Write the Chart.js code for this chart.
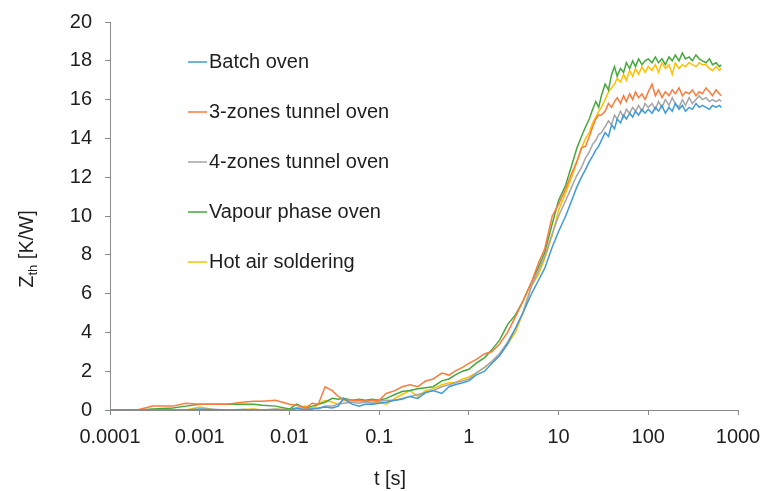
<!DOCTYPE html>
<html>
<head>
<meta charset="utf-8">
<title>Zth curves</title>
<script src="https://cdn.jsdelivr.net/npm/chart.js"></script>
<style>
  html, body { margin: 0; padding: 0; background: #fff; }
  #wrap { width: 761px; height: 491px; position: relative; }
</style>
</head>
<body>
<div id="wrap"><canvas id="myChart"></canvas></div>
<script>
// sample times [s]
var tSec = [0.0001,0.0002,0.0003,0.0005,0.0007,0.001,0.0015,0.002,0.003,0.004,0.005,0.007,0.01,
  0.012,0.015,0.018,0.021,0.025,0.03,0.035,0.04,0.05,0.06,0.07,0.085,0.1,
  0.12,0.15,0.18,0.22,0.27,0.33,0.4,0.5,0.6,0.7,0.85,1,
  1.2,1.5,1.8,2.2,2.7,3.3,4,5,6,7,8.5,10,
  12,14,16,18,20,22,24,26,28,30,33,36,39,42,45,49,53,57,62,67,72,78,85,92,100,
  110,120,130,142,155,170,185,200,220,240,260,285,310,340,370,400,440,480,520,570,620,650];

var seriesNames = ['Batch oven', '3-zones tunnel oven', '4-zones tunnel oven', 'Vapour phase oven', 'Hot air soldering'];
var seriesColors = ['#3f9ad8', '#fb7b3c', '#a5a5a5', '#46a83a', '#ffc000'];

// Zth [K/W]
var batchOven = [0,0,0,0,0,0.05,0.03,0,0.02,0,0,0,0,
  0.1,0,0.05,0.1,0.15,0.1,0.2,0.6,0.3,0.2,0.3,0.3,0.35,
  0.4,0.5,0.55,0.7,0.6,0.9,1.0,0.85,1.2,1.3,1.4,1.5,
  1.8,2.0,2.4,2.8,3.4,4.2,5.0,6.0,6.7,7.3,8.4,9.2,
  10.0,10.8,11.5,12.0,12.4,12.8,13.1,13.4,13.6,13.9,14.3,14.1,14.7,14.5,15.0,14.8,15.2,15.0,15.3,15.1,15.4,15.2,15.5,15.3,15.5,
  15.3,15.6,15.4,15.7,15.3,15.6,15.4,15.8,15.5,15.7,15.4,15.6,15.5,15.8,15.6,15.7,15.6,15.5,15.7,15.6,15.7,15.6];

var tunnel3 = [0,0,0.2,0.2,0.35,0.3,0.3,0.3,0.4,0.45,0.45,0.5,0.3,
  0.25,0.1,0.35,0.3,1.2,1.0,0.7,0.55,0.5,0.5,0.45,0.5,0.5,
  0.85,1.0,1.2,1.3,1.2,1.5,1.6,1.9,1.8,2.0,2.2,2.4,
  2.6,2.9,3.0,3.4,4.0,4.8,5.6,6.6,7.6,8.3,10.0,10.6,
  11.4,12.2,12.8,13.5,13.6,14.1,14.6,15.0,15.2,15.2,15.4,15.8,15.6,15.9,16.1,15.8,16.2,15.9,16.3,16.0,16.4,16.1,16.3,16.0,16.4,
  16.8,16.2,16.5,16.1,16.4,16.2,16.5,16.3,16.6,16.2,16.4,16.3,16.5,16.2,16.4,16.3,16.6,16.4,16.2,16.5,16.3,16.2];

var tunnel4 = [0,0,0,0,0,0,0,0,0,0.02,0,0.05,0,
  0.05,0.05,0.1,0.05,0.2,0.2,0.3,0.35,0.4,0.35,0.4,0.4,0.45,
  0.5,0.5,0.6,0.7,0.8,0.9,1.0,1.2,1.3,1.4,1.5,1.6,
  1.9,2.2,2.5,2.9,3.5,4.2,5.0,6.4,7.2,7.9,9.1,10.0,
  10.8,11.5,12.1,12.5,13.0,13.3,13.7,13.9,14.2,14.3,14.6,14.9,14.7,15.2,15.0,15.4,15.1,15.5,15.3,15.6,15.4,15.7,15.4,15.8,15.6,
  15.8,15.5,15.9,15.6,16.0,15.7,16.1,15.8,15.6,16.0,15.7,16.1,15.8,16.0,16.2,16.0,16.1,15.9,16.0,15.9,16.0,15.9];

var vapour = [0,0,0.05,0.1,0.2,0.3,0.3,0.3,0.3,0.3,0.25,0.2,0.05,
  0.3,0.1,0.2,0.3,0.4,0.6,0.55,0.6,0.5,0.55,0.5,0.55,0.5,
  0.6,0.8,0.95,1.0,1.1,1.15,1.2,1.5,1.6,1.8,2.0,2.1,
  2.4,2.7,3.1,3.6,4.4,4.9,5.6,6.6,7.4,8.1,9.6,10.8,
  11.6,12.6,13.5,14.1,14.6,15.0,15.5,15.9,15.6,16.2,16.8,16.5,17.3,17.7,17.2,17.6,17.4,17.9,17.6,18.0,17.7,18.1,17.8,18.0,18.1,
  17.9,18.2,17.9,18.1,17.8,18.2,18.0,18.3,18.0,18.4,18.1,18.2,18.0,18.3,18.1,18.0,17.9,18.1,17.8,17.9,17.7,17.8];

var hotAir = [0,0,0,0,0,0.15,0,0,0.02,0.05,0,0.02,0.05,
  0.1,0.2,0.05,0.3,0.5,0.4,0.3,0.5,0.4,0.45,0.4,0.35,0.4,
  0.3,0.6,0.8,1.0,0.7,1.0,1.1,1.3,1.4,1.4,1.6,1.7,
  1.9,2.2,2.5,2.9,3.4,4.0,5.0,6.4,7.0,7.8,9.0,10.3,
  11.2,12.0,12.8,13.5,14.0,14.3,14.8,15.1,15.4,15.6,16.0,16.4,16.6,16.8,17.1,16.9,17.3,17.0,17.5,17.2,17.6,17.3,17.7,17.4,17.7,
  17.5,17.8,17.4,17.9,17.6,17.8,17.3,17.9,17.6,17.8,17.7,17.9,17.8,17.7,17.9,17.8,17.8,17.6,17.5,17.7,17.5,17.6];

var xTicks = [0.0001, 0.001, 0.01, 0.1, 1, 10, 100, 1000];

var allSeries = [batchOven, tunnel3, tunnel4, vapour, hotAir];
var axisColor = '#8a8a8a';
var textColor = '#1e1e1e';
var fontFamily = '"Liberation Sans", Arial, sans-serif';

var datasets = allSeries.map(function (vals, k) {
  return {
    label: seriesNames[k],
    data: tSec.map(function (t, i) { return { x: t, y: vals[i] }; }),
    borderColor: seriesColors[k],
    backgroundColor: seriesColors[k],
    borderWidth: 1.5,
    pointRadius: 0,
    tension: 0,
    fill: false
  };
});

// legend drawn inside the plot, plus the two axis titles
var extras = {
  id: 'extras',
  afterDraw: function (chart) {
    var ctx = chart.ctx;
    ctx.save();
    ctx.font = '20px ' + fontFamily;
    ctx.textBaseline = 'middle';
    ctx.fillStyle = textColor;
    chart.data.datasets.forEach(function (ds, k) {
      var y = 62 + k * 50;
      ctx.strokeStyle = ds.borderColor;
      ctx.lineWidth = 1.5;
      ctx.beginPath();
      ctx.moveTo(188, y);
      ctx.lineTo(207, y);
      ctx.stroke();
      ctx.fillText(ds.label, 209, y);
    });

    // x title
    ctx.textAlign = 'center';
    ctx.fillText('t [s]', 390, 479);

    // y title with subscript
    ctx.textAlign = 'left';
    ctx.textBaseline = 'alphabetic';
    ctx.translate(33, 249);
    ctx.rotate(-Math.PI / 2);
    ctx.font = '20px ' + fontFamily;
    var wZ = ctx.measureText('Z').width;
    var wRest = ctx.measureText(' [K/W]').width;
    ctx.font = '13px ' + fontFamily;
    var wSub = ctx.measureText('th').width;
    var x0 = -(wZ + wSub + wRest) / 2;
    ctx.font = '20px ' + fontFamily;
    ctx.fillText('Z', x0, 0);
    ctx.font = '13px ' + fontFamily;
    ctx.fillText('th', x0 + wZ, 4);
    ctx.font = '20px ' + fontFamily;
    ctx.fillText(' [K/W]', x0 + wZ + wSub, 0);
    ctx.restore();
  }
};

new Chart(document.getElementById('myChart'), {
  type: 'line',
  data: { datasets: datasets },
  options: {
    responsive: true,
    maintainAspectRatio: false,
    animation: false,
    layout: { padding: { left: 0, right: 23, top: 22, bottom: 0 } },
    plugins: {
      legend: { display: false },
      tooltip: { enabled: false }
    },
    scales: {
      x: {
        type: 'logarithmic',
        min: 0.0001,
        max: 1000,
        afterBuildTicks: function (scale) {
          scale.ticks = xTicks.map(function (v) { return { value: v }; });
        },
        afterFit: function (scale) {
          scale.height = 81;
          scale.paddingLeft = 0;
          scale.paddingRight = 0;
        },
        grid: { drawOnChartArea: false, drawTicks: true, tickLength: 5, color: axisColor },
        border: { color: axisColor, width: 1 },
        ticks: {
          autoSkip: false,
          maxRotation: 0,
          padding: 10,
          color: textColor,
          font: { family: fontFamily, size: 20 },
          callback: function (v) { return String(v); }
        }
      },
      y: {
        min: 0,
        max: 20,
        afterFit: function (scale) {
          scale.width = 110;
          scale.paddingTop = 0;
          scale.paddingBottom = 0;
        },
        grid: { drawOnChartArea: false, drawTicks: true, tickLength: 5, color: axisColor },
        border: { color: axisColor, width: 1 },
        ticks: {
          stepSize: 2,
          padding: 13,
          color: textColor,
          font: { family: fontFamily, size: 20 }
        }
      }
    }
  },
  plugins: [extras]
});
</script>
</body>
</html>
